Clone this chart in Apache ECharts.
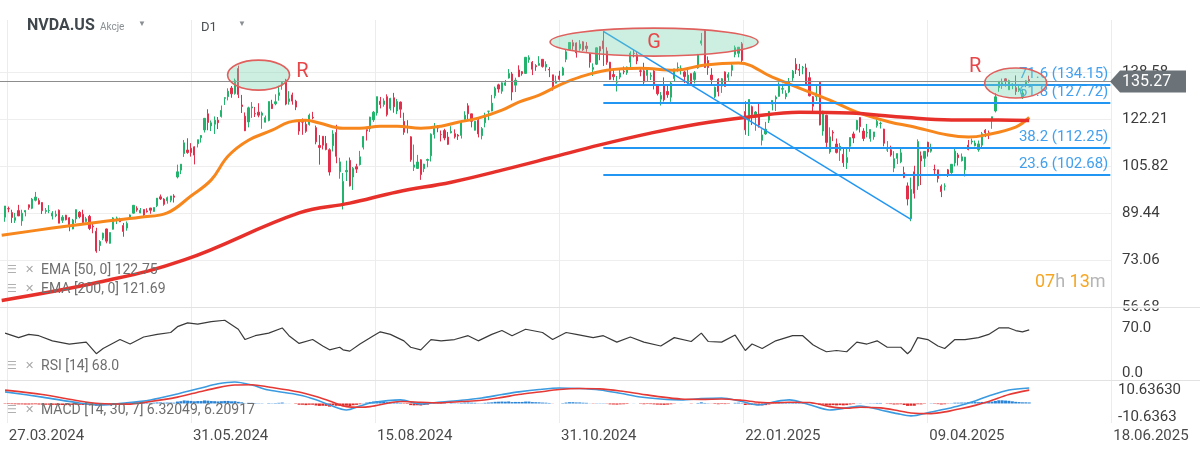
<!DOCTYPE html>
<html><head><meta charset="utf-8">
<script src="https://cdn.jsdelivr.net/npm/echarts@6/dist/echarts.min.js"></script>
<style>html,body{margin:0;padding:0;background:#fff}#c{width:1200px;height:457px}</style>
</head><body><div id="c"></div>
<script>
// ---------------- DATA ----------------
const symbolName = 'NVDA.US';
const dateLabels = ['27.03.2024','31.05.2024','15.08.2024','31.10.2024','22.01.2025','09.04.2025','18.06.2025'];
const priceTicks = [56.68, 73.06, 89.44, 105.82, 122.21, 138.58];
const rsiTicks = [0, 70];
const macdTicks = [-10.6363, 10.6363];
const lastPrice = 135.27;
const fibLevels = [71.6, 61.8, 38.2, 23.6];
const fibPrices = [134.15, 127.72, 112.25, 102.68];
const fibHigh = 152.76, fibLow = 87.21;

const opens = [88.0,91.0,89.6,86.9,90.3,86.7,89.8,92.3,91.1,93.9,
93.8,93.1,90.0,90.3,88.4,88.5,90.4,86.9,88.7,87.8,
83.9,87.4,89.7,89.0,86.5,88.3,84.9,83.1,78.1,80.7,
83.9,78.9,83.8,87.5,87.2,85.1,84.2,87.7,89.4,91.1,
89.5,90.7,90.2,91.2,90.0,92.0,95.1,94.3,93.7,93.9,
95.4,102.0,104.4,110.2,111.4,112.0,112.5,113.6,115.7,118.4,
124.0,119.8,120.4,121.8,123.1,129.4,130.0,133.0,131.1,139.8,
127.1,123.2,121.2,126.1,124.1,124.6,123.5,121.1,121.7,127.4,
127.5,130.4,134.0,135.8,128.3,130.6,128.4,121.4,121.8,120.4,
120.3,122.8,119.2,113.0,116.2,113.7,111.5,112.9,117.5,103.8,
92.1,103.8,107.8,102.0,105.6,106.3,112.4,118.5,118.8,121.9,
124.3,128.4,127.3,130.0,125.9,129.6,125.0,128.1,121.4,119.5,
116.0,105.4,105.0,108.0,104.9,107.8,109.4,116.8,119.1,116.8,
118.2,115.9,117.4,117.1,116.6,116.5,122.0,126.8,124.0,118.3,
121.8,116.4,120.9,124.9,125.0,130.3,134.1,131.9,134.0,136.5,
137.9,134.0,139.3,138.7,138.1,142.9,142.0,140.8,140.9,143.0,
140.3,139.5,137.6,134.7,137.2,137.5,143.0,146.4,148.8,148.7,
146.8,149.1,147.6,144.9,139.5,141.3,147.4,149.4,145.9,142.0,
137.7,135.0,136.8,138.8,138.3,142.0,145.1,144.6,139.0,139.0,
137.4,137.1,138.9,134.2,129.1,133.9,131.8,129.8,136.3,140.0,
139.7,138.6,134.8,138.0,136.0,140.0,148.6,153.0,142.6,137.5,
130.0,136.1,133.7,138.6,136.7,139.2,144.7,145.1,148.4,124.8,
121.8,126.5,123.1,123.8,114.8,117.0,121.8,127.4,129.2,130.1,
132.6,130.0,131.6,136.5,141.3,139.5,140.0,140.0,136.6,130.0,
130.0,135.0,118.0,123.5,110.7,117.6,113.5,111.3,109.9,107.0,
112.7,117.0,118.6,122.7,118.0,117.3,115.4,116.0,119.9,120.6,
118.7,111.4,111.5,105.1,108.5,107.3,103.5,98.9,87.5,103.8,
98.9,109.4,108.5,114.1,111.0,104.6,104.5,98.8,98.8,104.5,
103.5,106.9,109.7,107.7,104.5,113.1,114.2,112.9,111.5,113.1,
118.3,117.4,122.0,125.0,133.2,134.3,136.2,132.4,134.3,
133.1,132.2,130.0,134.2,136.0];
const highs = [91.9,91.7,90.6,89.5,92.3,90.6,90.4,92.4,94.7,96.8,
94.6,93.2,91.2,92.2,90.1,90.3,90.7,88.7,88.8,88.0,
87.4,90.7,90.1,90.6,88.1,88.8,86.1,84.3,80.0,82.6,
84.0,82.7,88.0,88.2,87.8,86.0,86.5,89.0,92.2,91.8,
91.2,90.7,91.1,91.2,91.4,94.6,95.9,94.6,95.2,95.4,
96.0,106.3,106.5,114.9,115.5,113.8,112.7,115.0,116.6,122.4,
125.6,121.7,123.1,122.9,126.9,129.8,132.9,133.7,136.3,140.8,
130.6,124.5,126.5,128.1,126.4,127.7,124.8,123.4,128.3,128.9,
130.8,133.8,135.1,136.2,131.9,131.4,128.9,121.9,122.4,121.6,
124.1,124.7,119.9,116.6,116.2,116.3,112.0,118.3,120.2,108.7,
103.4,107.7,108.8,105.5,106.6,111.1,116.2,118.6,123.0,125.0,
130.0,129.9,129.4,130.8,129.6,131.3,129.2,128.3,124.4,121.8,
116.2,113.3,109.7,108.2,106.6,108.4,117.2,120.8,120.0,118.2,
118.8,117.7,119.7,118.6,117.0,121.8,124.9,127.7,124.0,121.5,
122.4,119.4,124.4,125.0,130.6,133.5,134.5,135.0,135.8,139.6,
138.6,136.6,140.9,138.9,143.7,144.4,142.4,141.3,144.1,143.1,
142.3,140.3,137.6,137.3,139.0,140.4,146.5,148.9,149.8,148.9,
149.7,149.3,149.0,145.2,141.6,147.1,147.6,152.9,147.2,142.1,
139.3,137.2,139.4,140.5,140.5,145.8,146.5,145.7,140.0,141.8,
140.2,138.4,139.6,134.4,131.6,136.7,134.0,135.3,139.7,141.9,
140.9,139.0,140.3,138.1,138.9,144.9,152.2,153.1,144.0,139.9,
133.5,136.4,136.5,138.8,138.5,141.8,147.8,147.2,149.0,128.4,
129.0,126.9,125.0,127.9,118.6,121.2,125.0,128.8,130.4,135.0,
134.5,132.2,136.5,139.3,143.4,141.4,140.7,141.5,138.6,130.2,
133.7,135.0,125.1,123.7,119.3,118.3,115.4,113.8,111.9,112.2,
115.8,117.8,121.9,122.8,119.0,120.5,118.6,117.7,122.2,121.3,
118.8,114.5,112.9,111.0,110.2,112.0,105.6,100.1,101.8,105.9,
115.1,110.9,110.9,114.3,113.6,106.3,104.5,99.4,99.8,104.8,
106.5,111.9,110.4,110.2,109.0,114.9,115.4,114.7,114.7,117.7,
118.7,118.2,123.0,131.2,135.4,136.3,136.4,135.9,134.6,
137.4,134.3,132.7,135.7,137.3];
const lows = [86.4,89.7,86.0,86.0,88.4,85.0,88.3,90.6,90.8,93.5,
92.4,89.1,89.2,89.4,87.2,88.0,85.9,86.0,86.9,83.1,
83.8,86.0,87.6,85.9,86.2,83.5,82.4,75.6,76.2,80.0,
78.9,78.8,83.7,85.6,86.3,81.2,83.3,87.2,89.2,89.9,
89.4,88.0,89.6,89.2,89.9,91.5,94.0,92.0,92.7,93.2,
93.1,101.5,103.0,109.0,110.1,109.1,106.4,112.3,114.0,117.5,
118.3,118.0,117.0,118.7,122.7,127.1,128.7,129.6,130.7,129.5,
124.3,118.0,119.3,122.6,122.9,122.8,118.8,121.0,121.4,125.7,
127.0,128.6,132.4,127.0,127.2,127.2,125.3,116.7,116.7,117.4,
119.9,122.1,113.4,106.3,111.6,111.3,102.5,110.9,106.8,101.4,
90.7,100.6,98.7,97.5,103.4,106.0,111.6,114.7,117.7,121.2,
123.4,125.9,126.5,123.1,125.2,124.4,123.9,122.6,116.7,117.2,
107.3,104.1,104.8,101.0,103.7,105.4,107.4,115.4,117.6,114.4,
114.8,113.2,117.2,115.4,114.9,115.4,121.8,121.8,119.3,118.2,
115.8,115.1,119.3,121.8,124.9,129.4,131.4,131.0,133.7,136.3,
128.7,131.6,136.9,137.3,138.0,141.8,137.5,139.0,140.8,140.1,
138.9,136.8,132.1,134.6,135.6,137.3,142.0,146.2,146.3,143.6,
146.0,145.9,145.6,140.1,137.2,141.0,142.7,140.7,141.1,135.8,
135.7,131.8,136.1,137.8,137.6,140.3,143.7,141.3,137.1,133.8,
135.2,135.8,132.5,130.4,126.9,128.3,129.6,128.2,135.1,138.7,
137.7,134.7,134.0,133.8,134.6,139.7,147.8,140.0,137.6,134.2,
129.5,130.1,131.3,133.5,135.5,137.1,143.7,143.7,141.9,116.7,
116.3,120.1,118.1,119.2,113.0,116.7,120.8,125.2,125.0,130.0,
131.0,129.1,131.2,135.5,137.9,137.2,137.8,134.0,130.1,124.4,
128.5,120.0,116.4,112.3,110.1,114.5,110.2,107.6,105.5,104.8,
110.8,113.8,118.2,117.5,114.5,115.8,114.3,115.0,119.2,118.9,
112.7,110.7,109.1,103.7,106.5,106.8,101.6,92.1,86.6,94.5,
97.5,99.2,105.5,109.1,110.5,102.4,100.1,95.0,97.3,102.0,
103.1,105.7,106.0,107.4,102.2,111.3,113.4,112.7,110.8,112.3,
115.9,115.2,118.8,124.5,131.7,132.7,133.5,132.4,132.6,
130.6,131.6,129.2,133.3,134.8];
const closes = [91.9,90.9,87.9,87.84,88.45,89.39,90.36,91.4,94.29,95.0,
92.56,90.25,90.36,90.34,89.45,88.97,85.90,88.00,87.10,85.31,
87.00,90.62,88.12,86.04,87.42,84.07,84.63,76.20,79.51,82.42,
79.65,82.64,87.74,87.73,86.40,83.04,85.82,88.79,92.14,90.55,
90.41,88.75,89.87,90.40,91.36,94.64,94.36,92.48,94.78,95.39,
94.95,103.80,106.47,113.90,110.50,110.50,109.63,115.00,116.44,122.44,
120.99,120.88,121.79,120.91,125.20,129.61,131.88,130.98,135.58,130.78,
126.57,118.11,126.09,126.40,123.99,123.54,124.30,122.67,128.28,125.83,
128.20,131.38,134.91,127.40,129.24,128.44,126.36,117.99,121.09,117.93,
123.54,122.59,114.25,112.28,113.06,111.59,103.73,117.02,109.21,107.27,
100.45,104.25,98.91,104.97,104.75,109.02,116.14,118.08,122.86,124.58,
130.00,127.25,128.50,123.74,129.37,126.46,128.30,125.61,117.59,119.37,
108.00,106.21,107.21,102.83,106.47,108.10,116.91,119.14,119.10,116.78,
115.59,113.37,117.87,116.00,116.26,120.87,123.51,124.04,121.40,121.44,
117.00,118.85,122.85,124.92,127.72,132.89,132.65,134.81,134.80,138.07,
131.60,135.72,136.93,138.00,143.71,143.59,139.56,140.41,141.54,140.52,
141.25,139.34,132.76,135.40,136.05,139.91,145.61,148.88,147.63,145.26,
148.29,146.27,146.76,141.98,140.15,147.01,145.89,146.67,141.95,136.02,
136.92,135.34,138.25,138.63,140.26,145.14,145.06,142.44,138.81,135.07,
139.31,137.34,134.25,131.00,130.39,128.91,130.68,134.70,139.67,140.22,
139.93,137.01,137.49,134.29,138.31,144.47,149.43,140.14,140.11,135.91,
133.23,131.76,136.24,133.57,137.71,140.83,147.07,147.22,142.62,118.42,
128.99,123.70,124.65,120.07,116.66,118.65,124.83,128.68,129.84,133.57,
132.80,131.14,135.29,138.85,139.40,139.23,140.11,134.43,130.28,126.63,
131.28,120.15,124.92,114.06,115.99,117.30,110.57,112.69,106.98,108.76,
115.74,115.58,121.67,119.53,115.43,117.52,118.53,117.70,121.41,120.69,
113.76,111.43,109.67,108.38,110.15,110.42,101.80,94.31,97.64,96.30,
114.33,107.57,110.93,110.71,112.20,104.49,101.49,96.91,98.89,102.71,
106.43,111.01,108.73,109.02,108.92,111.61,114.50,113.82,113.54,117.06,
117.37,116.65,123.00,129.93,135.34,134.83,135.40,135.57,134.38,
131.80,132.83,131.29,135.50,135.27];
const macdHist = [-0.3,-0.4,-0.5,-0.6,-0.7,-0.7,-0.8,-0.8,-0.7,-0.6,
-0.8,-0.9,-1.0,-1.0,-1.1,-1.1,-1.2,-1.2,-1.3,-1.3,
-1.2,-1.0,-1.1,-1.2,-1.1,-1.3,-1.4,-1.8,-1.6,-1.3,
-1.1,-0.8,-0.3,0.1,0.2,0.0,0.2,0.5,0.8,0.8,
0.7,0.5,0.5,0.5,0.6,0.8,0.8,0.6,0.7,0.7,
0.6,1.5,1.8,2.4,2.2,2.0,1.7,1.9,1.9,2.4,
2.2,1.9,1.8,1.6,1.8,2.0,2.0,1.7,1.8,1.3,
0.9,0.2,0.5,0.5,0.3,0.2,0.2,0.0,0.3,0.2,
0.3,0.5,0.7,0.1,0.1,0.0,-0.3,-1.0,-1.0,-1.3,
-1.0,-1.0,-1.6,-1.9,-1.8,-1.9,-2.5,-1.4,-1.8,-1.9,
-2.3,-1.8,-2.0,-1.4,-1.1,-0.6,0.2,0.7,1.2,1.5,
1.9,1.7,1.6,1.0,1.2,0.9,0.8,0.5,-0.3,-0.4,
-1.3,-1.5,-1.4,-1.6,-1.2,-0.9,-0.1,0.4,0.6,0.5,
0.3,0.0,0.3,0.2,0.2,0.5,0.7,0.8,0.6,0.5,
0.2,0.2,0.5,0.7,0.9,1.3,1.4,1.5,1.4,1.6,
1.1,1.2,1.2,1.2,1.5,1.5,1.1,1.0,0.9,0.7,
0.6,0.4,-0.1,0.0,0.0,0.3,0.7,1.0,1.0,0.8,
0.8,0.6,0.5,0.1,-0.2,0.2,0.2,0.2,-0.2,-0.7,
-0.8,-0.9,-0.7,-0.6,-0.4,0.0,0.1,0.0,-0.3,-0.6,
-0.4,-0.5,-0.7,-0.9,-1.0,-1.1,-0.9,-0.6,-0.2,0.0,
0.1,0.0,0.0,-0.2,0.0,0.4,0.9,0.4,0.2,-0.1,
-0.4,-0.6,-0.4,-0.5,-0.3,0.0,0.5,0.6,0.3,-1.2,
-0.9,-1.1,-1.1,-1.3,-1.5,-1.3,-0.8,-0.3,0.0,0.4,
0.5,0.5,0.7,0.9,1.0,0.9,0.9,0.5,0.1,-0.4,
-0.3,-1.0,-0.9,-1.5,-1.5,-1.3,-1.5,-1.3,-1.5,-1.3,
-0.8,-0.5,0.1,0.2,0.0,0.1,0.2,0.2,0.4,0.4,
0.0,-0.3,-0.5,-0.8,-0.7,-0.6,-1.2,-1.9,-1.8,-1.8,
-0.6,-0.7,-0.3,0.0,0.2,-0.3,-0.5,-0.8,-0.6,-0.2,
0.2,0.6,0.6,0.7,0.7,0.9,1.1,1.1,1.0,1.2,
1.2,1.1,1.5,2.0,2.5,2.5,2.3,2.1,1.7,
1.3,1.1,0.9,0.9,0.8];

// indicator readings [slot, value]
const ema50 = [[0,81.7],[15,84.2],[29,86.3],[41,88.0],[49,89.5],[56,95.4],[62,101.0],[67,109.3],[73,114.8],[80,118.3],[85,121.1],[90,121.8],[94,120.8],[101,119.0],[106,119.0],[112,119.7],[117,119.7],[124,119.0],[130,119.7],[135,121.1],[141,122.5],[148,125.3],[153,128.1],[159,130.5],[165,134.0],[171,136.8],[179,139.2],[189,139.9],[199,139.2],[208,141.0],[218,141.7],[228,136.8],[236,133.0],[245,128.8],[253,124.6],[263,121.1],[269,119.7],[280,116.6],[286,115.9],[291,116.6],[300,119.4],[304,122.75]];
const ema200 = [[0,59.0],[29,65.4],[54,73.1],[88,89.5],[103,92.9],[117,96.8],[133,100.2],[148,104.4],[162,108.6],[177,113.2],[192,117.3],[206,120.5],[221,122.9],[236,124.6],[251,124.3],[266,122.9],[281,121.9],[295,121.9],[304,121.69]];
const rsi = [[1,62],[5,55],[8,60],[11,58],[15,50],[20,45],[25,48],[28,30],[30,38],[35,52],[38,45],[42,56],[46,60],[50,63],[52,72],[55,78],[58,76],[62,80],[66,82],[70,68],[72,52],[75,58],[79,62],[83,70],[85,58],[88,46],[92,52],[95,42],[97,36],[100,40],[101,36],[103,34],[106,45],[110,58],[112,64],[115,60],[119,50],[121,40],[124,36],[127,52],[130,50],[134,52],[138,58],[141,50],[145,60],[148,66],[151,58],[155,68],[160,63],[163,52],[167,63],[170,60],[175,55],[178,58],[182,48],[186,56],[190,48],[195,42],[199,55],[204,49],[207,62],[209,49],[213,48],[217,59],[220,35],[222,45],[225,38],[229,50],[234,58],[237,58],[240,44],[242,38],[244,33],[247,35],[250,33],[253,48],[256,45],[259,50],[262,40],[266,40],[268,30],[269,35],[271,55],[274,52],[277,42],[279,38],[282,52],[285,52],[289,55],[292,60],[295,70],[298,70],[300,66],[302,64],[304,67]];
const macd = [[1,9.1],[12,5],[23,0.4],[29,-1.2],[37,0.5],[44,2.8],[52,7.5],[59,12.2],[64,15.5],[69,16.9],[74,14.5],[79,10.6],[88,6.7],[93,3],[97,-1.2],[102,-5.1],[106,-2],[109,0.4],[118,2.8],[124,-0.4],[130,1.2],[136,2.5],[142,4.3],[148,7],[153,9.1],[159,11],[165,12.2],[171,11.8],[177,10.6],[183,8],[189,5.1],[195,3.5],[201,2.8],[207,3.8],[213,4.3],[219,1.5],[224,-1.2],[229,1.5],[233,2.8],[239,-1],[245,-5.1],[250,-3.5],[254,-2],[260,-5.1],[265,-8],[269,-9.8],[275,-6.7],[280,-4],[284,-1.2],[288,2],[292,5.9],[298,10.6],[304,12.2]];
const macdSignal = [[1,10.5],[12,7],[23,2],[29,0],[37,-0.5],[44,1.5],[52,5],[59,9.5],[64,12.5],[69,14.5],[74,14.8],[79,13],[88,9],[93,5.5],[97,2],[102,-2.5],[106,-3],[109,-2.5],[118,1.5],[124,1],[130,0.5],[136,1.5],[142,2.5],[148,4.8],[153,7],[159,9],[165,11],[171,11.8],[177,11.5],[183,9.8],[189,7.5],[195,5.2],[201,3.5],[207,3.2],[213,3.5],[219,2.5],[224,1],[229,0.5],[233,1],[239,0.8],[245,-2.5],[250,-3.8],[254,-3],[260,-3.5],[265,-5.5],[269,-7.5],[275,-8],[280,-6.2],[284,-4],[288,-1.5],[292,1.5],[298,7],[304,10.5]];

// ---------------- LAYOUT ----------------
const W = 1200;
const AXIS_SLOTS = 339, FIRST_LABEL_SLOT = 2, SLOTS_PER_LABEL = 52;   // date axis
const SLOT_W = 3.38, MAIN_SLOTS = 329, FIRST_BAR_SLOT = 1;             // price panels
const mainRight = W - MAIN_SLOTS * SLOT_W;
const FIB_START = 178, FIB_END = 328, FIB_LOW_SLOT = 269;
const UP = '#22b36c', DOWN = '#e2304c', ORANGE = '#f7861c', RED = '#e8302b', BLUE = '#2196f3', FIBTXT = '#42a0ee';
const FONT = 'Roboto, "Noto Sans", sans-serif';

const seq = n => Array.from({length: n}, (_, i) => String(i));
const candleData = [], histData = [];
for (let i = 0; i < FIRST_BAR_SLOT; i++) { candleData.push('-'); histData.push('-'); }
for (let i = 0; i < closes.length; i++) {
  candleData.push([opens[i], closes[i], lows[i], highs[i]]);
  histData.push(macdHist[i]);
}
const isLabelSlot = i => i >= FIRST_LABEL_SLOT && (i - FIRST_LABEL_SLOT) % SLOTS_PER_LABEL === 0;

function xCat(gridIndex, n, extra) {
  return Object.assign({type: 'category', gridIndex, data: seq(n), boundaryGap: true,
    axisLine: {show: false}, axisTick: {show: false}, axisLabel: {show: false}, splitLine: {show: false}}, extra || {});
}

const fibLines = fibLevels.map((lv, k) => [
  {coord: [FIB_START, fibPrices[k]], label: {show: true, position: 'insideEndTop', formatter: lv.toFixed(1) + ' (' + fibPrices[k].toFixed(2) + ')', color: FIBTXT, fontSize: 15, fontFamily: FONT, distance: [2, 3]}},
  {coord: [FIB_END, fibPrices[k]]}
]);

const option = {
  animation: false,
  backgroundColor: '#ffffff',
  grid: [
    {left: 0, right: mainRight, top: 20, height: 288},
    {left: 0, right: mainRight, top: 309, height: 71},
    {left: 0, right: mainRight, top: 381, height: 41},
    {left: 0, right: 0, top: 20, height: 403}
  ],
  xAxis: [
    xCat(0, MAIN_SLOTS), xCat(1, MAIN_SLOTS), xCat(2, MAIN_SLOTS),
    xCat(3, AXIS_SLOTS, {
      splitLine: {show: true, interval: (i) => isLabelSlot(i), lineStyle: {color: '#ececec', width: 1}},
      axisLabel: {show: true, interval: (i) => isLabelSlot(i),
        formatter: (v, i) => dateLabels[(i - FIRST_LABEL_SLOT) / SLOTS_PER_LABEL] || '', align: 'left',
        color: '#4a4a4a', fontSize: 15, fontFamily: FONT, margin: 6}})
  ],
  yAxis: [
    {type: 'value', gridIndex: 0, position: 'right', min: 56.36, max: 156.7, axisLine: {show: false}, axisTick: {show: false, customValues: priceTicks},
      axisLabel: {customValues: priceTicks, formatter: v => v.toFixed(2), color: '#3c3c3c', fontSize: 15, fontFamily: FONT, margin: 10, align: 'left'},
      splitLine: {show: true, lineStyle: {color: '#eeeeee'}}},
    {type: 'value', gridIndex: 1, position: 'right', min: -10.9, max: 99.5, axisLine: {show: false}, axisTick: {show: false, customValues: rsiTicks},
      axisLabel: {customValues: rsiTicks, formatter: v => v.toFixed(1), color: '#3c3c3c', fontSize: 15, fontFamily: FONT, margin: 10, align: 'left'},
      splitLine: {show: false}},
    {type: 'value', gridIndex: 2, position: 'right', min: -14.6, max: 17.7, axisLine: {show: false}, axisTick: {show: false, customValues: macdTicks},
      axisLabel: {customValues: macdTicks, formatter: v => v > 0 ? v.toFixed(5) : v.toFixed(4), color: '#3c3c3c', fontSize: 15, fontFamily: FONT, margin: 6, align: 'left'},
      splitLine: {show: false}},
    {type: 'value', gridIndex: 3, show: false}
  ],
  series: [
    {type: 'candlestick', xAxisIndex: 0, yAxisIndex: 0, data: candleData, barMaxWidth: 2.4,
      itemStyle: {color: UP, color0: DOWN, borderColor: UP, borderColor0: DOWN, borderWidth: 1},
      markLine: {silent: true, symbol: 'none', animation: false,
        data: [
          {yAxis: lastPrice, lineStyle: {color: '#8d8d8d', width: 1, type: 'solid'}, label: {show: false}},
          ...fibLines,
          [{coord: [FIB_START, fibHigh], label: {show: false}, lineStyle: {color: BLUE, width: 1.5, type: 'solid'}}, {coord: [FIB_LOW_SLOT, fibLow]}]
        ],
        lineStyle: {color: BLUE, width: 2, type: 'solid'}, label: {show: false}}
    },
    {type: 'line', name: 'EMA50', xAxisIndex: 0, yAxisIndex: 0, data: ema50, smooth: 0.4, showSymbol: false, lineStyle: {color: ORANGE, width: 3}, z: 3},
    {type: 'line', name: 'EMA200', xAxisIndex: 0, yAxisIndex: 0, data: ema200, smooth: 0.4, showSymbol: false, lineStyle: {color: RED, width: 3.5}, z: 3},
    {type: 'line', name: 'RSI', xAxisIndex: 1, yAxisIndex: 1, data: rsi, smooth: false, showSymbol: false, lineStyle: {color: '#3a3a3a', width: 1.2}},
    {type: 'bar', name: 'Hist', xAxisIndex: 2, yAxisIndex: 2, data: histData, barWidth: 3, barGap: '-100%',
      itemStyle: {color: p => (p.value >= 0 ? '#2a84d6' : '#e02a2a')}},
    {type: 'line', name: 'MACD', xAxisIndex: 2, yAxisIndex: 2, data: macd, smooth: 0.3, showSymbol: false, lineStyle: {color: '#3a9be0', width: 1.6}, z: 3},
    {type: 'line', name: 'Signal', xAxisIndex: 2, yAxisIndex: 2, data: macdSignal, smooth: 0.3, showSymbol: false, lineStyle: {color: '#e53935', width: 1.6}, z: 3}
  ]
};

const chart = echarts.init(document.getElementById('c'), null, {renderer: 'canvas', width: 1200, height: 457});
chart.setOption(option);

// ---------------- ANNOTATIONS ----------------
const ellipses = [
  {slot: 75.8, price: 137.5, rx: 31, ry: 15},
  {slot: 192.7, price: 149.0, rx: 104, ry: 14},
  {slot: 300.4, price: 134.75, rx: 31, ry: 15}
];
const letters = [
  {text: 'R', slot: 88.8, price: 138.6},
  {text: 'G', slot: 193.3, price: 148.8},
  {text: 'R', slot: 288.0, price: 140.3}
];
const px = (s, p) => chart.convertToPixel({gridIndex: 0}, [s, p]);
const g = [];
ellipses.forEach(e => {
  const c = px(e.slot, e.price);
  g.push({type: 'ellipse', shape: {cx: c[0], cy: c[1], rx: e.rx, ry: e.ry}, style: {fill: 'rgba(120,214,176,0.38)', stroke: '#e0605e', lineWidth: 1.6}, z: 50});
});
letters.forEach(l => {
  const c = px(l.slot, l.price);
  g.push({type: 'text', x: c[0], y: c[1], style: {text: l.text, fill: '#e8474a', font: '20px ' + FONT, textAlign: 'center', textVerticalAlign: 'middle'}, z: 51});
});
const ty = px(0, lastPrice)[1];
const tx = W - mainRight;
g.push({type: 'polygon', shape: {points: [[tx - 2, ty], [tx + 8, ty - 11], [1186, ty - 11], [1186, ty + 11], [tx + 8, ty + 11]]}, style: {fill: '#6b7378'}, z: 60});
g.push({type: 'text', x: tx + 10, y: ty, style: {text: lastPrice.toFixed(2), fill: '#ffffff', font: '16px ' + FONT, textVerticalAlign: 'middle'}, z: 61});
g.push({type: 'text', x: 27, y: 26, style: {text: symbolName, fill: '#3f474d', font: 'bold 16px ' + FONT, textVerticalAlign: 'middle'}, z: 70});
g.push({type: 'text', x: 100, y: 27, style: {text: 'Akcje', fill: '#8a8f93', font: '10px ' + FONT, textVerticalAlign: 'middle'}, z: 70});
g.push({type: 'text', x: 138, y: 24, style: {text: '▼', fill: '#8a8f93', font: '8px ' + FONT, textVerticalAlign: 'middle'}, z: 70});
g.push({type: 'text', x: 201, y: 28, style: {text: 'D1', fill: '#4a4f53', font: '13px ' + FONT, textVerticalAlign: 'middle'}, z: 70});
g.push({type: 'text', x: 238, y: 24, style: {text: '▼', fill: '#8a8f93', font: '8px ' + FONT, textVerticalAlign: 'middle'}, z: 70});
const legends = [
  {y: 270, text: 'EMA [50, 0] 122.75'},
  {y: 289, text: 'EMA [200, 0] 121.69'},
  {y: 366, text: 'RSI [14] 68.0'},
  {y: 410, text: 'MACD [14, 30, 7] 6.32049, 6.20917'}
];
legends.forEach(l => {
  g.push({type: 'text', x: 7, y: l.y, style: {text: '☰', fill: '#b0b0b0', font: '11px "DejaVu Sans"', textVerticalAlign: 'middle'}, z: 70});
  g.push({type: 'text', x: 25, y: l.y, style: {text: '✕', fill: '#a8a8a8', font: 'bold 11px "DejaVu Sans"', textVerticalAlign: 'middle'}, z: 70});
  g.push({type: 'text', x: 41, y: l.y, style: {text: l.text, fill: '#6f6f6f', font: '14px ' + FONT, textVerticalAlign: 'middle'}, z: 70});
});
g.push({type: 'text', x: 1035, y: 282, style: {text: '{o|07}{g|h} {o|13}{g|m}', font: '18px ' + FONT, textVerticalAlign: 'middle',
  rich: {o: {fill: '#f5a623', font: '18px ' + FONT}, g: {fill: '#b5b5b5', font: '18px ' + FONT}}}, z: 70});
g.push({type: 'rect', shape: {x: tx + 1, y: 305.5, width: W - tx, height: 3}, style: {fill: '#ffffff'}, z: 39});
[307.5, 380.5].forEach(y => g.push({type: 'line', shape: {x1: 0, y1: y, x2: W, y2: y}, style: {stroke: '#e2e2e2', lineWidth: 1}, z: 40}));
chart.setOption({graphic: g});
</script></body></html>
